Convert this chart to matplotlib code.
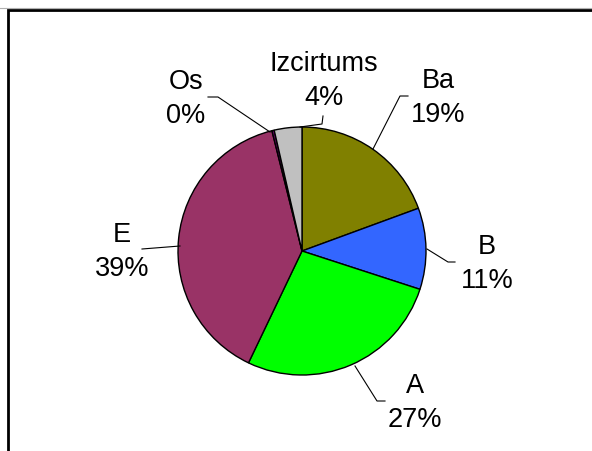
import matplotlib
matplotlib.use("Agg")
import matplotlib.pyplot as plt
import numpy as np
from matplotlib.patches import Rectangle
from matplotlib.lines import Line2D

labels = ["Ba", "B", "A", "E", "Os", "Izcirtums"]
values = [19.4, 10.6, 27.1, 39.0, 0.3, 3.6]
pct_labels = ["19%", "11%", "27%", "39%", "0%", "4%"]
colors = ["#808000", "#3366FF", "#00FF00", "#993366", "#660066", "#C0C0C0"]

W, H = 592, 452
cx, cy, R = 302, 252, 124

fig = plt.figure(figsize=(W / 100, H / 100), dpi=100)
ax = fig.add_axes([0, 0, 1, 1])

wedges, _ = ax.pie(values, colors=colors, startangle=90, counterclock=False,
                   radius=1.0, center=(0, 0), frame=True,
                   wedgeprops=dict(edgecolor="black", linewidth=1.0))
ax.set_xlim(-cx / R, (W - cx) / R)
ax.set_ylim(-(H - cy) / R, cy / R)
ax.set_aspect("auto")
ax.axis("off")

def px(x, y):
    return ((x - cx) / R, (cy - y) / R)

label_pos = {
    "Ba": px(438, 98), "B": px(487, 264), "A": px(415, 403),
    "E": px(122, 252), "Os": px(186, 99), "Izcirtums": px(324, 81),
}
leaders = {
    "Ba": [px(373, 150), px(400, 97), px(408, 97)],
    "B": [px(427, 250), px(448, 263), px(455, 263)],
    "A": [px(355, 367), px(377, 402), px(385, 402)],
    "E": [px(180, 247), px(142, 250)],
    "Os": [px(270, 133), px(218, 98), px(208, 98)],
    "Izcirtums": [px(300, 128), px(322, 125), px(323, 117)],
}

for lab, pct in zip(labels, pct_labels):
    x, y = label_pos[lab]
    ax.text(x, y, f"{lab}\n{pct}", ha="center", va="center",
            fontsize=19.5, family="Liberation Sans", linespacing=1.4)
    pts = np.array(leaders[lab])
    ax.add_line(Line2D(pts[:, 0], pts[:, 1], color="black", lw=0.8))

# chart area frame
fig.add_artist(Line2D([0, 1], [1 - 9 / H, 1 - 9 / H], transform=fig.transFigure,
                      color="#B0B0B0", lw=0.8))
fig.add_artist(Rectangle((8 / W, -0.1), 1.2, 1.1 - 11 / H, transform=fig.transFigure,
                         fill=False, edgecolor="black", lw=2.0))

fig.savefig("out.png", dpi=100)
